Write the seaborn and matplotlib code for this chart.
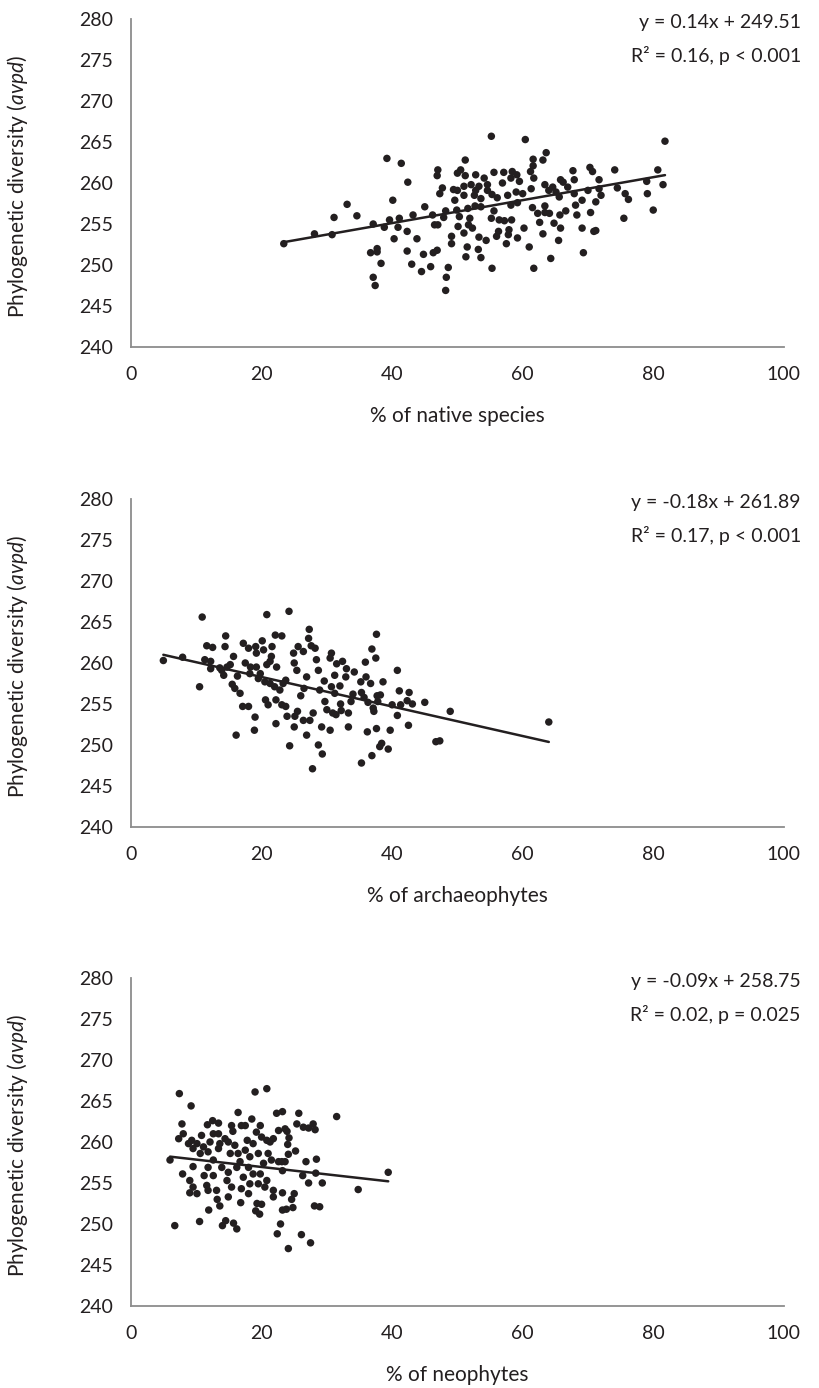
import numpy as np
import pandas as pd
import matplotlib
matplotlib.use("Agg")
import matplotlib.pyplot as plt
import seaborn as sns

# -----------------------------
# Data
# -----------------------------
native_x = [23.4, 28.1, 30.8, 31.1, 33.1, 34.6, 37.1, 36.7, 37.7, 37.7, 38.3, 37.1, 37.4,
            39.2, 41.4, 42.4, 40.1, 39.6, 38.8, 40.3, 40.9, 41.1, 42.3, 43.2, 43.8, 42.3,
            43.0, 44.5, 44.8, 45.0, 45.9, 46.3, 46.9, 46.2, 46.5, 47.0, 47.0, 46.9, 47.7,
            47.3, 48.2, 47.9, 48.6, 48.3, 48.2, 49.1, 49.1, 49.4, 50.0, 49.6, 49.9, 50.3,
            50.1, 50.0, 50.5, 51.2, 51.2, 51.0, 51.0, 51.0, 51.5, 51.3, 51.7, 51.6,
            55.2, 60.4, 81.8, 63.6, 63.1, 61.6, 61.6, 61.2, 61.7, 52.8, 54.1, 55.6, 57.1,
            58.4, 59.1, 58.2, 59.5, 56.9, 54.6, 53.3, 52.1, 61.3, 63.4, 64.6, 64.0, 65.8,
            66.2, 65.1, 65.6, 66.9, 67.7, 67.9, 70.3, 70.7, 71.7, 71.7, 74.1, 80.7, 81.5,
            79.0, 79.1, 74.5, 75.7, 76.2, 72.0, 71.2, 70.0, 69.1, 68.1, 67.9, 80.0, 75.5,
            70.4, 68.3, 66.6, 65.7, 64.8, 65.8, 69.1, 70.9, 71.2, 65.5, 69.3, 64.3, 61.7,
            55.3, 61.0, 63.1, 62.6, 63.4, 64.1, 62.3, 61.5, 63.4, 60.2, 59.2, 58.3, 57.2,
            56.4, 55.2, 57.9, 57.8, 57.5, 56.3, 56.0, 54.4, 53.3, 53.2, 53.6, 52.3, 51.9,
            52.7, 53.6, 52.6, 53.6, 55.3, 56.1, 55.6, 57.7, 59.0, 58.2, 59.2, 60.0, 52.8,
            54.6]
native_y = [252.6, 253.8, 253.7, 255.8, 257.4, 256.0, 255.0, 251.5, 252.0, 251.6, 250.2, 248.5, 247.5,
            263.0, 262.4, 260.1, 257.9, 255.5, 254.6, 253.2, 254.6, 255.7, 254.1, 256.1, 253.2, 251.7,
            250.1, 249.2, 251.3, 257.1, 249.8, 251.5, 251.8, 256.1, 254.9, 254.9, 261.6, 260.9, 259.4,
            258.7, 256.6, 255.8, 249.7, 248.5, 246.9, 253.5, 252.6, 259.2, 259.1, 257.9, 256.7, 255.9,
            254.7, 261.2, 261.6, 262.8, 260.9, 259.6, 258.5, 253.9, 252.2, 251.0, 254.9, 256.9,
            265.7, 265.3, 265.1, 263.7, 262.8, 262.9, 262.1, 261.4, 260.6, 261.0, 260.6, 261.3, 261.3,
            261.4, 261.0, 260.6, 260.2, 260.0, 259.8, 259.6, 259.8, 259.3, 259.8, 259.5, 259.1, 260.4,
            260.1, 258.9, 258.3, 259.5, 261.5, 260.4, 261.9, 261.4, 260.4, 259.3, 261.6, 261.6, 259.8,
            260.2, 258.7, 259.4, 258.7, 258.0, 258.5, 257.7, 259.1, 257.9, 257.3, 258.7, 256.7, 255.7,
            256.4, 256.1, 256.6, 256.1, 255.1, 254.5, 254.5, 254.1, 254.2, 253.0, 251.5, 250.8, 249.6,
            249.6, 252.2, 253.8, 255.2, 256.4, 256.3, 256.3, 257.0, 257.2, 254.5, 253.3, 255.5, 255.4,
            255.5, 255.7, 254.3, 253.7, 252.6, 254.1, 253.5, 253.0, 253.4, 251.9, 250.9, 254.5, 255.7,
            257.2, 257.1, 258.5, 258.1, 258.6, 258.2, 256.6, 258.5, 258.9, 257.3, 257.6, 258.7, 259.1,
            259.1]

archaeo_x = [4.95, 7.9, 10.5, 10.9, 11.6, 12.5, 11.3, 12.2, 12.2, 13.6, 13.9, 14.2, 14.5,
             14.4, 14.7, 15.2, 15.7, 15.5, 16.3, 15.9, 16.7, 16.1, 17.1, 18.0, 17.2, 18.0,
             17.5, 18.3, 18.2, 19.0, 18.9, 19.1, 19.2, 20.1, 20.8, 20.3, 19.2, 19.8, 19.5,
             20.5, 20.6, 21.0, 21.6, 21.3, 20.8, 21.5, 22.1, 23.1, 22.3, 22.2, 22.2, 21.3,
             22.0, 22.8, 23.1, 23.7, 24.2, 23.7, 23.3, 23.9, 24.3, 24.9, 25.0, 25.4, 25.6,
             25.1, 25.0, 25.5, 26.0, 26.4, 26.5, 26.4, 26.9, 27.3, 27.2, 27.6, 26.9, 28.2,
             27.4, 27.9, 28.4, 28.7, 28.7, 28.9, 29.2, 29.7, 30.0, 30.5, 30.7, 30.5, 30.7,
             30.9, 31.2, 31.5, 31.2, 29.6,
             37.6, 36.9, 37.5, 35.9, 32.4, 33.0, 34.2, 32.9, 36.0, 35.2, 36.7, 38.6, 40.8,
             32.0, 34.0, 35.3, 35.7, 37.7, 38.2, 41.1, 42.6, 33.7, 36.3, 37.8, 32.1, 37.1,
             37.2, 40.0, 41.3, 42.3, 43.1, 45.0, 48.9, 32.2, 33.3, 31.4, 40.8, 33.3, 36.2,
             37.6, 39.7, 42.5, 46.7, 47.3, 38.4, 38.1, 39.4,
             29.3, 27.8, 35.3, 36.9, 64.0]
archaeo_y = [260.3, 260.7, 257.1, 265.6, 262.1, 261.9, 260.4, 260.2, 259.3, 259.4, 259.1, 258.5, 263.3,
             262.0, 259.5, 259.8, 260.8, 257.4, 258.4, 256.9, 256.3, 251.2, 254.7, 254.7, 262.4, 261.8,
             260.0, 259.5, 258.7, 253.4, 251.8, 262.0, 261.2, 262.7, 265.9, 261.6, 259.5, 258.7, 258.1,
             257.7, 255.5, 254.9, 262.0, 260.2, 259.8, 260.8, 263.4, 263.3, 259.5, 255.5, 252.6, 257.5,
             257.1, 256.7, 254.9, 254.7, 266.3, 257.9, 257.5, 253.5, 249.9, 261.2, 260.0, 259.1, 262.0,
             253.5, 252.2, 254.1, 256.0, 261.4, 256.9, 253.0, 251.2, 264.1, 263.0, 262.1, 258.3, 261.8,
             253.0, 253.9, 260.4, 259.1, 250.0, 256.7, 252.2, 255.3, 254.3, 251.8, 261.2, 260.6, 257.1,
             253.9, 258.5, 259.9, 256.3, 257.8,
             263.5, 261.7, 260.6, 260.1, 260.2, 259.3, 258.9, 258.3, 258.3, 257.7, 257.5, 257.7, 259.1,
             257.2, 256.2, 256.4, 255.8, 256.0, 256.1, 256.6, 256.4, 255.3, 255.2, 255.3, 255.0, 254.5,
             254.1, 254.9, 254.9, 255.4, 255.0, 255.2, 254.1, 254.2, 253.9, 253.7, 253.6, 252.2, 251.6,
             252.0, 251.8, 252.4, 250.4, 250.5, 250.2, 249.8, 249.5,
             248.9, 247.1, 247.8, 248.7, 252.8]

neo_x = [5.97, 7.4, 9.2, 7.8, 8.0, 7.3, 7.9, 9.0, 9.5, 8.8, 9.3, 9.5, 10.1,
         10.8, 11.1, 10.6, 9.5, 9.0, 10.1, 11.7, 12.5, 13.4, 12.6, 12.1, 11.8, 11.2,
         11.6, 11.8, 11.8, 12.6, 13.4, 13.6, 13.4, 12.6, 13.1, 13.9, 14.4, 14.9, 15.4,
         15.6, 16.4, 16.9, 17.5, 15.2, 14.9, 14.7, 15.4, 14.9, 15.9, 16.4, 16.7, 16.2,
         17.2, 16.9, 17.5, 17.8, 18.5, 19.0, 19.2, 18.7, 18.2, 18.0, 18.7, 18.2, 18.0,
         19.8, 20.0, 19.5, 20.3, 19.8, 19.5, 20.8, 20.8, 21.3, 21.8, 21.0, 21.5, 20.8,
         20.5, 21.8, 22.3, 22.6, 22.6,
         23.2, 25.7, 31.5, 25.4, 26.4, 27.2, 27.9, 28.2, 23.6, 23.9, 24.2, 24.0, 24.1,
         25.2, 23.6, 23.1, 26.8, 28.4, 23.2, 26.3, 28.3, 27.2, 29.3, 34.8, 39.4, 23.2,
         25.0, 24.6,
         6.7, 10.5, 11.9, 13.2, 13.6, 16.8, 14.5, 14.0, 15.7, 16.2, 19.3, 20.0, 19.1,
         19.7, 21.8, 23.2, 23.8, 24.8, 22.9, 22.4, 24.1, 26.1, 27.5, 28.1, 28.9]
neo_y = [257.8, 265.9, 264.4, 262.2, 261.0, 260.4, 256.1, 255.3, 257.0, 259.8, 260.2, 259.2, 259.8,
         260.8, 259.4, 258.6, 254.5, 253.8, 253.7, 262.1, 262.6, 262.3, 261.0, 260.0, 258.8, 255.9,
         254.7, 254.1, 256.9, 257.8, 261.0, 259.8, 259.2, 255.9, 254.1, 256.9, 260.4, 260.0, 262.0,
         261.3, 263.6, 262.0, 262.0, 258.6, 256.3, 255.3, 254.5, 253.3, 259.6, 258.6, 257.6, 256.9,
         255.7, 254.3, 259.0, 260.2, 262.8, 266.1, 261.2, 259.8, 258.2, 256.9, 256.1, 254.9, 253.7,
         262.0, 260.6, 258.6, 257.4, 256.1, 254.9, 266.5, 260.2, 260.0, 260.4, 258.6, 257.8, 255.3,
         254.5, 254.1, 263.5, 261.4, 257.6,
         263.7, 263.5, 263.1, 262.2, 261.8, 261.7, 262.2, 261.5, 261.6, 261.3, 260.5, 259.7, 258.5,
         258.9, 257.6, 257.6, 257.6, 257.9, 256.5, 255.9, 256.2, 255.0, 255.0, 254.2, 256.3, 253.8,
         253.7, 253.0,
         249.8, 250.3, 251.7, 253.0, 252.2, 252.6, 250.4, 249.8, 250.1, 249.4, 252.5, 252.4, 251.6,
         251.2, 253.3, 251.7, 251.8, 252.0, 250.0, 248.8, 247.0, 248.7, 247.7, 252.2, 252.1]

x_labels = ["% of native species", "% of archaeophytes", "% of neophytes"]
slopes = [0.14, -0.18, -0.09]
intercepts = [249.51, 261.89, 258.75]
eq_texts = ["y = 0.14x + 249.51", "y = -0.18x + 261.89", "y = -0.09x + 258.75"]
stat_texts = ["R\u00b2 = 0.16, p < 0.001", "R\u00b2 = 0.17, p < 0.001", "R\u00b2 = 0.02, p = 0.025"]

panels = [(native_x, native_y), (archaeo_x, archaeo_y), (neo_x, neo_y)]

# -----------------------------
# Style
# -----------------------------
sns.set_theme(style="white")
plt.rcParams["font.family"] = ["Lato", "DejaVu Sans"]
plt.rcParams["mathtext.fontset"] = "custom"
plt.rcParams["mathtext.rm"] = "Lato"
plt.rcParams["mathtext.it"] = "Lato:italic"

ink = "#231f20"
axis_grey = "#8c8c8c"

fig = plt.figure(figsize=(8.19, 13.88), dpi=100)
bottoms = [0.750, 0.4042, 0.0591]

for i, (xs, ys) in enumerate(panels):
    ax = fig.add_axes([0.160, bottoms[i], 0.797, 0.2363])
    df = pd.DataFrame({"x": xs, "y": ys})

    sns.scatterplot(data=df, x="x", y="y", ax=ax, color=ink, s=29,
                    edgecolor="none", linewidth=0)

    # fitted line from the reported equation
    xl = np.array([df["x"].min(), df["x"].max()])
    ax.plot(xl, slopes[i] * xl + intercepts[i], color=ink, lw=1.8)

    ax.set_xlim(0, 100)
    ax.set_ylim(240, 280)
    ax.set_xticks(range(0, 101, 20))
    ax.set_yticks(range(240, 281, 5))

    for side in ["top", "right"]:
        ax.spines[side].set_visible(False)
    for side in ["left", "bottom"]:
        ax.spines[side].set_color(axis_grey)
        ax.spines[side].set_linewidth(1.3)

    ax.tick_params(axis="both", direction="out", length=4, width=1.3,
                   color=axis_grey, labelsize=14, labelcolor=ink)
    ax.tick_params(axis="y", pad=9)
    ax.tick_params(axis="x", pad=10)

    ax.set_xlabel(x_labels[i], fontsize=15, color=ink)
    ax.set_ylabel(r"Phylogenetic diversity ($\it{avpd}$)", fontsize=15, color=ink)
    ax.xaxis.set_label_coords(0.5, -0.18)
    ax.yaxis.set_label_coords(-0.155, 0.49)

    ax.text(1.026, 0.99, eq_texts[i], transform=ax.transAxes, ha="right",
            va="center", fontsize=14, color=ink)
    ax.text(1.026, 0.89, stat_texts[i], transform=ax.transAxes, ha="right",
            va="center", fontsize=14, color=ink)

fig.savefig("out.png", dpi=100)
